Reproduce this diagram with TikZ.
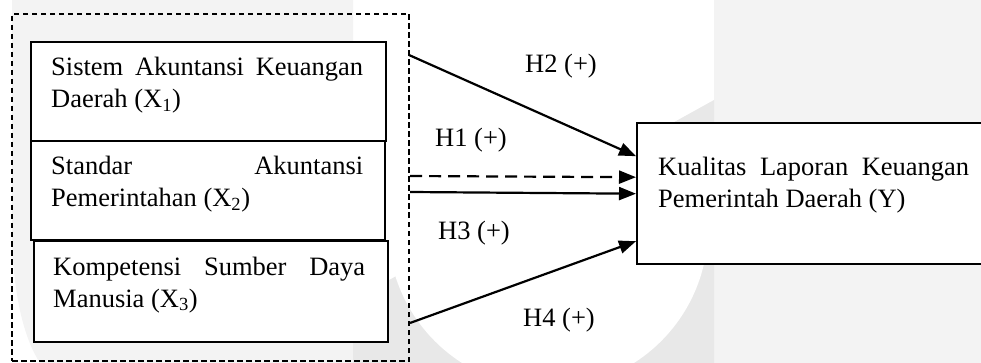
\documentclass[tikz,border=0pt]{standalone}
\usepackage{fontspec}
\setmainfont{Liberation Serif}
\usetikzlibrary{arrows.meta,calc}
\definecolor{wmA}{HTML}{F3F3F3}
\definecolor{wmB}{HTML}{E8E8E8}
\tikzset{
 box/.style={draw, line width=2.4pt, fill=white, inner sep=0pt, anchor=north west},
 txt/.style={inner sep=0pt, anchor=base west, font=\fontsize{26.5}{32}\selectfont},
 arr/.style={line width=2.2pt, -{Triangle[length=17pt,width=13pt]}},
 dasharr/.style={arr, dash pattern=on 12pt off 7pt},
 grpbox/.style={draw, line width=2pt, dash pattern=on 5.5pt off 3.5pt, inner sep=0pt, anchor=north west},
}
\newcommand\twol[3]{\parbox[t]{#1}{\fontsize{26.5}{32}\selectfont #2\\#3}}
\begin{document}
\begin{tikzpicture}[x=1pt,y=-1pt]
\useasboundingbox (0,0) rectangle (981,363);
\clip (0,0) rectangle (981,363);
% watermark background
\fill[wmA] (12,0) -- (12,240) .. controls (14,300) and (25,340) .. (40,363) -- (353,363) -- (353,0) -- cycle;
\fill[wmA] (714,0) rectangle (981,363);
\fill[wmB] (353,300) -- (353,363) -- (714,363) -- (714,100) -- cycle;
\fill[white] (548,228) circle[radius=160];
% group and boxes
\node[grpbox, minimum width=397pt, minimum height=347pt] (grp) at (11,13) {};
\node[box, minimum width=355pt, minimum height=99pt] (x1) at (30,41) {};
\node[box, minimum width=354pt, minimum height=99pt] (x2) at (30,140) {};
\node[box, minimum width=354pt, minimum height=101pt] (x3) at (33,240) {};
\node[box, minimum width=364pt, minimum height=141pt] (yb) at (636,122) {};
% texts
\node[txt] (t1) at (51,76) {\twol{312pt}{Sistem\hfill Akuntansi\hfill Keuangan}{Daerah (X\textsubscript{1})}};
\node[txt] (t2) at (51,175) {\twol{312pt}{Standar\hfill Akuntansi}{Pemerintahan (X\textsubscript{2})}};
\node[txt] (t3) at (53,275) {\twol{312pt}{Kompetensi\hfill Sumber\hfill Daya}{Manusia (X\textsubscript{3})}};
\node[txt] (ty) at (658,176) {\twol{311pt}{Kualitas\hfill Laporan\hfill Keuangan}{Pemerintah Daerah (Y)}};
% labels
\node[txt] (h2) at (525,73) {H2 (+)};
\node[txt] (h1) at (435,147) {H1 (+)};
\node[txt] (h3) at (438,239) {H3 (+)};
\node[txt] (h4) at (523,326) {H4 (+)};
% arrow starts
\coordinate (s2) at (409,55);
\coordinate (s1) at (410,176);
\coordinate (s3) at (410,192);
\coordinate (s4) at (410,323);
\draw[arr] (s2) -- ([yshift=37.5pt]yb.west);
\draw[dasharr] (s1) -- ([yshift=16.5pt]yb.west);
\draw[arr] (s3) -- (yb.west);
\draw[arr] (s4) -- ([yshift=-47.5pt]yb.west);
\end{tikzpicture}
\end{document}
